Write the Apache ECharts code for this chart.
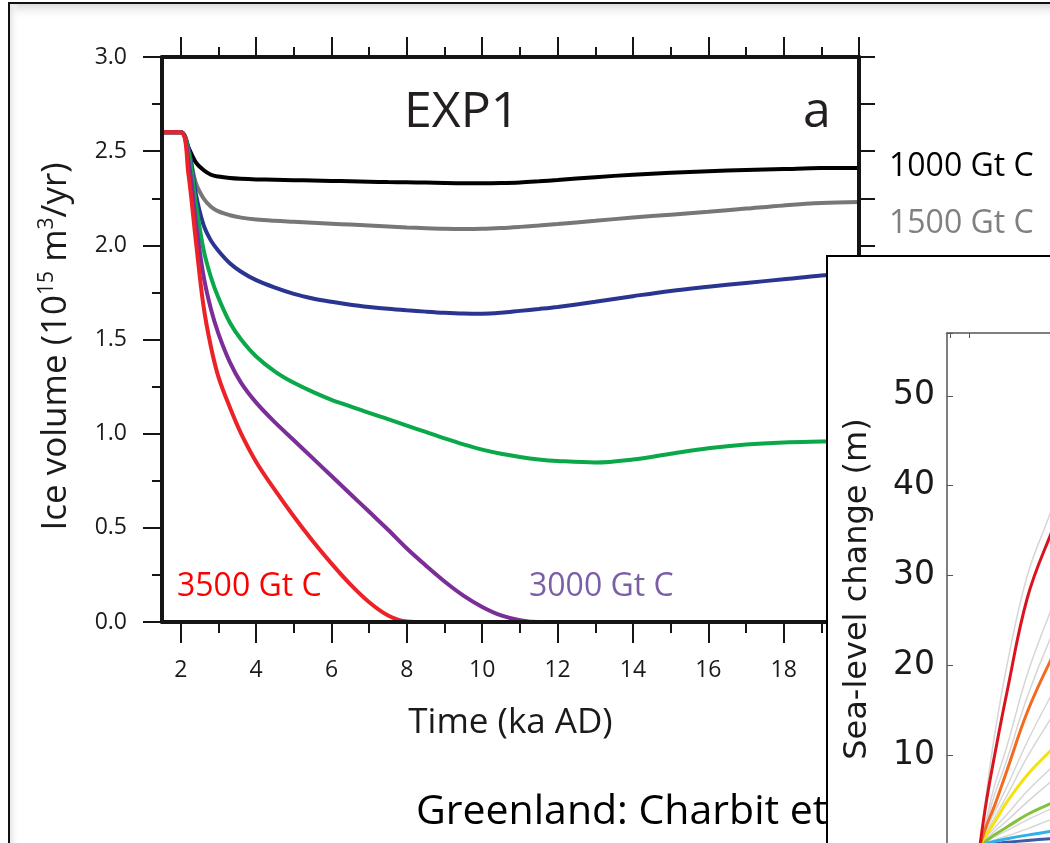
<!DOCTYPE html>
<html>
<head>
<meta charset="utf-8">
<script src="https://cdn.jsdelivr.net/npm/echarts@6/dist/echarts.min.js"></script>
<style>
html,body{margin:0;padding:0;background:#fff;}
#chart{width:1050px;height:843px;}
</style>
</head>
<body>
<div id="chart"></div>
<script>
// ---------- Main panel (EXP1) ----------
const timeKa = [1.5,2.0,2.2,2.4,2.6,2.8,3.0,3.3,3.6,4.0,4.5,5.0,5.5,6.0,6.5,7.0,7.5,8.0,8.5,9.0,9.5,10,10.5,11,11.5,12,13,14,15,16,17,18,19,20];
const ice1000 = [2.6,2.6,2.52,2.44,2.40,2.375,2.365,2.357,2.353,2.35,2.348,2.346,2.344,2.342,2.34,2.338,2.336,2.335,2.333,2.331,2.330,2.330,2.331,2.334,2.34,2.347,2.362,2.375,2.385,2.394,2.40,2.405,2.41,2.41];
const ice1500 = [2.6,2.6,2.5,2.33,2.25,2.205,2.18,2.16,2.147,2.137,2.13,2.125,2.12,2.115,2.11,2.105,2.10,2.095,2.091,2.088,2.087,2.088,2.092,2.098,2.105,2.113,2.13,2.148,2.163,2.178,2.195,2.212,2.225,2.23];
const ice2000 = [2.6,2.6,2.52,2.27,2.11,2.025,1.97,1.905,1.86,1.815,1.775,1.742,1.718,1.70,1.685,1.673,1.663,1.655,1.648,1.642,1.638,1.637,1.642,1.652,1.662,1.673,1.70,1.73,1.758,1.78,1.80,1.82,1.84,1.855];
const ice2500 = [2.6,2.6,2.5,2.22,1.98,1.83,1.72,1.59,1.50,1.41,1.33,1.27,1.222,1.18,1.145,1.11,1.077,1.043,1.009,0.975,0.943,0.915,0.893,0.876,0.863,0.855,0.847,0.863,0.893,0.922,0.942,0.953,0.958,0.962];
const ice3000 = [2.6,2.6,2.45,2.12,1.84,1.66,1.53,1.38,1.27,1.165,1.06,0.965,0.87,0.775,0.68,0.585,0.49,0.39,0.30,0.215,0.14,0.08,0.035,0.01,0,0,0,0,0,0,0,0,0,0];
const ice3500 = [2.6,2.6,2.38,2.02,1.68,1.46,1.30,1.14,1.00,0.85,0.70,0.56,0.43,0.31,0.20,0.105,0.035,0.003,0,0,0,0,0,0,0,0,0,0,0,0,0,0,0,0];
const xMajorTicks = [2,4,6,8,10,12,14,16,18,20];
const xMinorTicks = [3,5,7,9,11,13,15,17,19];
const xTickLabels = [2,4,6,8,10,12,14,16,18];
const yMinorTicks = [0.25,0.75,1.25,1.75,2.25,2.75];

// ---------- Inset (sea-level change) ----------
const insetTime = [3,3.6,4.3,5.45,7.3,9.4,11];
const slRed    = [0,5,9.8,17,27.5,34.5,39];
const slOrange = [0,2.2,4.3,8.3,14.8,20.5,24];
const slYellow = [0,1.2,2.5,4.8,7.8,10.5,12.5];
const slGreen  = [0,0.5,1.1,2.0,3.4,4.6,5.5];
const slCyan   = [0,0.2,0.4,0.7,1.1,1.5,1.8];
const slBlue   = [0,0.08,0.15,0.3,0.5,0.7,0.85];
const slGray = [
  [0,6,12,20,30,37,43],
  [0,3,6.5,11,19,26,31],
  [0,2.5,5.5,9.5,16.5,23,27],
  [0,1.8,3.6,6.5,11.5,16.5,20],
  [0,1.5,3.0,5.5,9.8,14,17],
  [0,0.9,1.9,3.4,6,8.5,10.5],
  [0,0.7,1.5,2.7,4.8,7,8.5],
  [0,0.4,0.9,1.6,2.8,4,5],
  [0,0.25,0.55,1.0,1.8,2.8,3.4]
];
const slTickLabels = [10,20,30,40,50];

const F = 'Open Sans';
const pair = (xs, ys) => xs.map((x, i) => [x, ys[i]]);

const mainLine = (name, ys, color) => ({
  name, type: 'line', xAxisIndex: 0, yAxisIndex: 0,
  data: pair(timeKa, ys), showSymbol: false, symbol: 'none',
  smooth: 0.35, z: 2,
  lineStyle: { color, width: 4 }, silent: true
});
const insetLine = (ys, color, width, z) => ({
  type: 'line', xAxisIndex: 4, yAxisIndex: 3,
  data: pair(insetTime, ys), symbol: 'none', smooth: 0.4, z: z,
  lineStyle: { color, width }, silent: true
});

const series = [
  mainLine('1000 Gt C', ice1000, '#000000'),
  mainLine('1500 Gt C', ice1500, '#777777'),
  mainLine('2000 Gt C', ice2000, '#2a3592'),
  mainLine('2500 Gt C', ice2500, '#0ba84a'),
  mainLine('3000 Gt C', ice3000, '#7b2d98'),
  mainLine('3500 Gt C', ice3500, '#ec2227')
];
slGray.forEach(g => series.push(insetLine(g, '#d6d6d6', 1.5, 20)));
series.push(insetLine(slBlue, '#3d5aa6', 3, 21));
series.push(insetLine(slCyan, '#2fb0ea', 3, 21));
series.push(insetLine(slGreen, '#84c13d', 3, 21));
series.push(insetLine(slYellow, '#f4e20c', 3, 21));
series.push(insetLine(slOrange, '#f26b21', 3, 21));
series.push(insetLine(slRed, '#d9141e', 3, 21));

const axisLineMain = { show: true, onZero: false, lineStyle: { color: '#151515', width: 4 } };
const noLine = { show: false, onZero: false };
const tickStyle = { color: '#151515', width: 2 };

const option = {
  animation: false,
  backgroundColor: '#ffffff',
  grid: [
    { left: 162, top: 57, width: 697, height: 565, outerBoundsMode: 'none', containLabel: false },
    { left: 947, top: 333, width: 1100, height: 512, outerBoundsMode: 'none', containLabel: false }
  ],
  xAxis: [
    { gridIndex: 0, type: 'value', position: 'bottom', min: 1.5, max: 20, z: 3,
      axisLine: axisLineMain,
      axisTick: { show: true, customValues: xMajorTicks, length: 21, lineStyle: tickStyle },
      axisLabel: { show: true, customValues: xTickLabels, fontSize: 23, fontFamily: F, color: '#1a1a1a', margin: 37 },
      splitLine: { show: false },
      name: 'Time (ka AD)', nameLocation: 'middle', nameGap: 84,
      nameTextStyle: { fontSize: 35, fontFamily: F, color: '#1a1a1a' } },
    { gridIndex: 0, type: 'value', position: 'bottom', min: 1.5, max: 20, z: 3,
      axisLine: noLine,
      axisTick: { show: true, customValues: xMinorTicks, length: 11, lineStyle: tickStyle },
      axisLabel: { show: false }, splitLine: { show: false } },
    { gridIndex: 0, type: 'value', position: 'top', min: 1.5, max: 20, z: 3,
      axisLine: axisLineMain,
      axisTick: { show: true, customValues: xMajorTicks, length: 20, lineStyle: tickStyle },
      axisLabel: { show: false }, splitLine: { show: false } },
    { gridIndex: 0, type: 'value', position: 'top', min: 1.5, max: 20, z: 3,
      axisLine: noLine,
      axisTick: { show: true, customValues: xMinorTicks, length: 10, lineStyle: tickStyle },
      axisLabel: { show: false }, splitLine: { show: false } },
    { gridIndex: 1, type: 'value', position: 'top', min: 0, max: 100, z: 22,
      axisLine: { show: true, onZero: false, lineStyle: { color: '#555', width: 1.5 } },
      axisTick: { show: true, inside: true, customValues: [0.3, 2], length: 5, lineStyle: { color: '#555', width: 1 } },
      axisLabel: { show: false }, splitLine: { show: false } }
  ],
  yAxis: [
    { gridIndex: 0, type: 'value', position: 'left', min: 0, max: 3, interval: 0.5, z: 3,
      axisLine: axisLineMain,
      axisTick: { show: true, length: 19, lineStyle: tickStyle },
      axisLabel: { fontSize: 23, fontFamily: F, color: '#1a1a1a', margin: 35, formatter: v => v.toFixed(1) },
      splitLine: { show: false },
      name: '{t|Ice volume (10}{s|15}{t| m}{s|3}{t|/yr)}',
      nameLocation: 'middle', nameGap: 88,
      nameTextStyle: { padding: [0, 14, 0, 0], rich: {
        t: { fontSize: 35, fontFamily: F, color: '#1a1a1a', verticalAlign: 'bottom' },
        s: { fontSize: 21, fontFamily: F, color: '#1a1a1a', verticalAlign: 'bottom', padding: [0, 0, 16, 0] }
      } } },
    { gridIndex: 0, type: 'value', position: 'left', min: 0, max: 3, z: 3,
      axisLine: noLine,
      axisTick: { show: true, customValues: yMinorTicks, length: 10, lineStyle: tickStyle },
      axisLabel: { show: false }, splitLine: { show: false } },
    { gridIndex: 0, type: 'value', position: 'right', min: 0, max: 3, interval: 0.25, z: 3,
      axisLine: axisLineMain,
      axisTick: { show: true, length: 16, lineStyle: tickStyle },
      axisLabel: { show: false }, splitLine: { show: false } },
    { gridIndex: 1, type: 'value', position: 'left', min: 0, max: 57, interval: 10, z: 22,
      axisLine: { show: true, onZero: false, lineStyle: { color: '#555', width: 1.5 } },
      axisTick: { show: true, inside: true, length: 6, lineStyle: { color: '#555', width: 1 } },
      axisLabel: { show: true, customValues: slTickLabels, fontSize: 33, fontFamily: 'DejaVu Sans', color: '#1a1a1a', margin: 12 },
      splitLine: { show: false },
      name: 'Sea-level change (m)', nameLocation: 'middle', nameGap: 73,
      nameTextStyle: { fontSize: 32, fontFamily: 'DejaVu Sans', color: '#1a1a1a' } }
  ],
  series,
  graphic: { elements: [
    { type: 'rect', z: 0, silent: true,
      shape: { x: 10, y: 4, width: 1040, height: 16 },
      style: { fill: { type: 'linear', x: 0, y: 0, x2: 0, y2: 1, colorStops: [
        { offset: 0, color: '#d9d9d9' }, { offset: 1, color: 'rgba(255,255,255,0)' } ] } } },
    { type: 'rect', z: 0, silent: true,
      shape: { x: 10, y: 4, width: 10, height: 840 },
      style: { fill: { type: 'linear', x: 0, y: 0, x2: 1, y2: 0, colorStops: [
        { offset: 0, color: '#e6e6e6' }, { offset: 1, color: 'rgba(255,255,255,0)' } ] } } },
    { type: 'rect', z: 1, silent: true,
      shape: { x: 9, y: 3, width: 1100, height: 900 },
      style: { fill: 'none', stroke: '#111', lineWidth: 2 } },
    { type: 'text', z: 10, left: 404, top: 88, silent: true,
      style: { text: 'EXP1', fontSize: 50, fontFamily: F, fill: '#231f20' } },
    { type: 'text', z: 10, left: 803, top: 88, silent: true,
      style: { text: 'a', fontSize: 50, fontFamily: F, fill: '#231f20' } },
    { type: 'text', z: 10, left: 177, top: 571, silent: true,
      style: { text: '3500 Gt C', fontSize: 32, fontFamily: F, fill: '#ff0000' } },
    { type: 'text', z: 10, left: 529, top: 571, silent: true,
      style: { text: '3000 Gt C', fontSize: 32, fontFamily: F, fill: '#7b5fa6' } },
    { type: 'text', z: 10, left: 889, top: 151, silent: true,
      style: { text: '1000 Gt C', fontSize: 32, fontFamily: F, fill: '#000000' } },
    { type: 'text', z: 10, left: 889, top: 208, silent: true,
      style: { text: '1500 Gt C', fontSize: 32, fontFamily: F, fill: '#808080' } },
    { type: 'text', z: 5, left: 416, top: 792, silent: true,
      style: { text: 'Greenland: Charbit et al.', fontSize: 41, fontFamily: F, fill: '#000000' } },
    { type: 'rect', z: 15, silent: true,
      shape: { x: 827, y: 256, width: 400, height: 700 },
      style: { fill: '#ffffff', stroke: '#000000', lineWidth: 2 } }
  ] }
};

const chart = echarts.init(document.getElementById('chart'), null, { renderer: 'canvas', width: 1050, height: 843 });
chart.setOption(option);
</script>
</body>
</html>
